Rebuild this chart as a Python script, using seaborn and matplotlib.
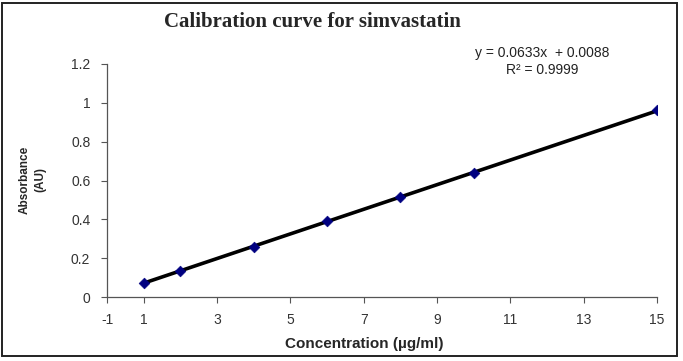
import numpy
import pandas
import seaborn
import matplotlib.pyplot as pyplot
from matplotlib.patches import Rectangle

seaborn.set_style('white')
pyplot.rcParams['font.family'] = ['Liberation Sans', 'DejaVu Sans']

concentration = [1, 2, 4, 6, 8, 10, 15]
absorbance = [0.075, 0.135, 0.260, 0.390, 0.513, 0.638, 0.962]
# the first label sits where the axis starts (x = 0), as in the original chart
x_ticks = [0, 1, 3, 5, 7, 9, 11, 13, 15]
x_tick_labels = ['-1', '1', '3', '5', '7', '9', '11', '13', '15']
y_ticks = [0, 0.2, 0.4, 0.6, 0.8, 1.0, 1.2]
y_tick_labels = ['0', '0.2', '0.4', '0.6', '0.8', '1', '1.2']

data = pandas.DataFrame({'conc': concentration, 'abs': absorbance})

fig = pyplot.figure(figsize=(6.83, 3.61), dpi=100)
ax = fig.add_axes([0.1567, 0.177, 0.8053, 0.646])

seaborn.regplot(data=data, x='conc', y='abs', ax=ax, ci=None, scatter=False,
                truncate=True, line_kws=dict(color='black', linewidth=2.6, zorder=2))
seaborn.scatterplot(data=data, x='conc', y='abs', ax=ax, marker='D', s=30,
                    color='#000080', edgecolor='#000080', zorder=3)

ax.set_xlim(0, 15)
ax.set_ylim(0, 1.2)
ax.set_xticks(x_ticks)
ax.set_xticklabels(x_tick_labels)
ax.set_yticks(y_ticks)
ax.set_yticklabels(y_tick_labels)
ax.tick_params(axis='both', direction='out', length=4.5, width=0.8, color='#555555',
               labelsize=10, labelcolor='#333333', left=True, bottom=True)
ax.tick_params(axis='x', pad=7)
ax.tick_params(axis='y', pad=7.5)
for side in ['top', 'right']:
    ax.spines[side].set_visible(False)
for side in ['left', 'bottom']:
    ax.spines[side].set_color('#555555')
    ax.spines[side].set_linewidth(0.9)

ax.set_xlabel('')
ax.set_ylabel('')
fig.text(0.533, 0.047, 'Concentration (µg/ml)', ha='center', va='center',
         fontsize=11, fontweight='bold')
fig.text(0.048, 0.5014, 'Absorbance\n(AU)', ha='center', va='center', rotation=90,
         fontsize=8.5, fontweight='bold', linespacing=1.45, multialignment='center')

fig.text(0.7936, 0.8296, 'y = 0.0633x  + 0.0088\nR² = 0.9999', ha='center', va='center',
         fontsize=10, color='#222222', linespacing=1.2, multialignment='center')

fig.text(0.457, 0.939, 'Calibration curve for simvastatin', ha='center', va='center',
         fontsize=15, fontweight='bold', family=['Liberation Serif', 'DejaVu Serif'])

fig.patches.append(Rectangle((0.003, 0.013), 0.988, 0.98, transform=fig.transFigure,
                             fill=False, edgecolor='#222222', linewidth=1.4))

fig.savefig('out.png', dpi=100)
